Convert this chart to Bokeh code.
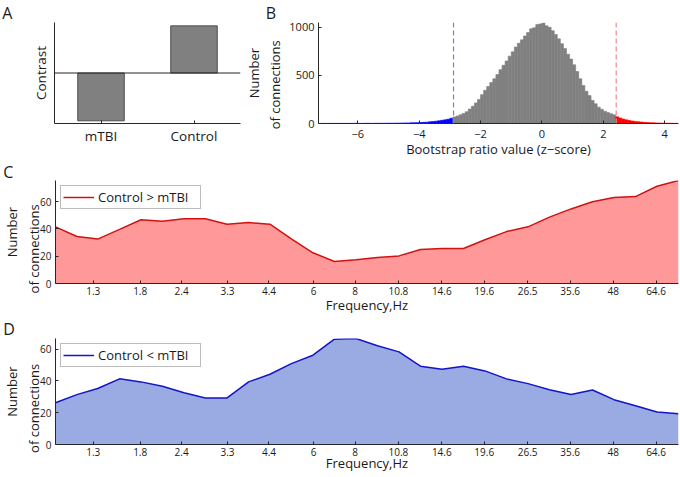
from bokeh.plotting import figure
from bokeh.layouts import column, row
from bokeh.models import Range1d, FixedTicker, Span, Legend, LegendItem, Title
from bokeh.embed import file_html
from bokeh.resources import INLINE

# ---------------- data ----------------
# Panel A: contrast
groups = ["mTBI", "Control"]
contrast = [-0.71, 0.70]

# Panel B: bootstrap ratio histogram (bins of 0.1 starting at -7.2)
hist_start = -7.2
hist_width = 0.1
hist_counts = [
    1, 1, 1, 1, 1, 1, 1, 1, 1, 1, 1, 2, 1, 1, 2, 2, 1, 2, 2, 2, 2, 3,
    3, 3, 4, 4, 5, 6, 6, 7, 8, 9,
    10, 12, 14, 17, 20, 24, 28, 33, 38, 45,
    55, 68, 78, 90, 104, 122, 150, 180, 214, 250,
    300, 345, 385, 425, 465, 510, 560, 605, 650, 700,
    745, 795, 835, 870, 910, 945, 985, 995, 1030, 1035,
    1045, 1015, 1000, 965, 925, 880, 830, 780, 720, 670,
    610, 540, 465, 395, 335, 290, 240, 205, 170, 148,
    128, 115, 102, 90, 70, 58, 47, 38, 31, 26,
    22, 18, 15, 12, 10, 8, 7, 6, 5, 4,
    3, 3, 2, 2,
]
ci_low = -2.88
ci_high = 2.42
b_xticks = [-6, -4, -2, 0, 2, 4]
b_xtick_labels = ["\u22126", "\u22124", "\u22122", "0", "2", "4"]
b_yticks = [0, 500, 1000]

# Panels C, D: number of connections per frequency
freqs = [1.00, 1.16, 1.34, 1.56, 1.81, 2.10, 2.44, 2.83, 3.29, 3.82,
         4.43, 5.14, 5.97, 6.93, 8.05, 9.34, 10.85, 12.59, 14.62, 16.97,
         19.70, 22.88, 26.56, 30.83, 35.80, 41.56, 48.24, 56.01, 65.02, 75.49]
ctrl_gt_mtbi = [41.5, 34.4, 32.5, 39.6, 46.7, 45.6, 47.4, 47.4, 43.4, 44.6,
                43.4, 32.7, 22.5, 16.1, 17.3, 19.0, 20.2, 24.9, 25.6, 25.6,
                32.0, 38.0, 41.5, 48.6, 54.6, 59.8, 62.9, 63.6, 71.2, 75.4]
ctrl_lt_mtbi = [26.3, 31.4, 35.2, 41.3, 39.4, 36.6, 32.6, 29.3, 29.3, 39.4,
                44.2, 50.9, 56.2, 66.3, 66.7, 62.1, 58.3, 49.3, 47.4, 49.3,
                46.3, 41.3, 38.3, 34.5, 31.4, 34.3, 28.2, 24.4, 20.4, 19.4]
freq_tick_labels = ["1.3", "1.8", "2.4", "3.3", "4.4", "6", "8", "10.8",
                    "14.6", "19.6", "26.5", "35.6", "48", "64.6"]
cd_yticks = [0, 20, 40, 60]

# ---------------- styling helpers ----------------
FONT = "Open Sans"
AX = "#262626"
TXT = "#1a1a1a"
NB = "\u00a0"


def make_fig(w, h, borders, xr, yr, x_axis_type="linear"):
    p = figure(width=w, height=h, x_range=xr, y_range=yr,
               x_axis_type=x_axis_type, toolbar_location=None,
               output_backend="svg",
               min_border_left=borders[0], min_border_right=borders[1],
               min_border_top=borders[2], min_border_bottom=borders[3])
    p.grid.visible = False
    p.outline_line_color = None
    p.background_fill_color = "white"
    p.border_fill_color = "white"
    for ax in p.axis:
        ax.axis_line_color = AX
        ax.axis_line_width = 1
        ax.major_tick_line_color = AX
        ax.major_tick_in = 3
        ax.major_tick_out = 0
        ax.minor_tick_line_color = None
        ax.major_label_text_font = FONT
        ax.major_label_text_color = TXT
        ax.major_label_standoff = 4
        ax.axis_label_text_font = FONT
        ax.axis_label_text_font_style = "normal"
        ax.axis_label_text_color = TXT
        ax.axis_label_text_font_size = "13px"
    return p


def add_letter(p, letter, offset, standoff):
    p.add_layout(Title(text=letter, align="left", vertical_align="top",
                       offset=offset, standoff=standoff, text_font=FONT,
                       text_font_size="16px", text_font_style="normal",
                       text_color=TXT), "above")


# ---------------- Panel A ----------------
pA = make_fig(241, 160, (54, 1, 20, 34), Range1d(0.5, 2.5), Range1d(-0.75, 0.75))
xa = [i + 1 for i in range(len(groups))]
pA.vbar(x=xa, top=contrast, bottom=0, width=0.5, fill_color="#808080",
        line_color="#4d4d4d", line_width=1)
pA.add_layout(Span(location=0, dimension="width", line_color=AX, line_width=1))
pA.xaxis.ticker = FixedTicker(ticks=xa)
pA.xaxis.major_label_overrides = {x: g for x, g in zip(xa, groups)}
pA.xaxis.major_label_text_font_size = "13.5px"
pA.xaxis.major_label_standoff = 3
pA.yaxis.ticker = FixedTicker(ticks=[])
pA.yaxis.axis_label = "Contrast"
pA.yaxis.axis_label_text_font_size = "13.5px"
pA.yaxis.axis_label_standoff = 5
add_letter(pA, "A", -52.3, -8.4)

# ---------------- Panel B ----------------
pB = make_fig(439, 160, (71, 2, 22, 34), Range1d(-7.28, 4.45), Range1d(0, 1050))
lefts, rights, tops, colors = [], [], [], []
for i, c in enumerate(hist_counts):
    l = hist_start + i * hist_width
    r = l + hist_width
    ctr = (l + r) / 2
    col = "#0000ff" if ctr < ci_low else ("#ff0000" if ctr > ci_high else "#808080")
    lefts.append(l); rights.append(r); tops.append(c); colors.append(col)
pB.quad(left=lefts, right=rights, top=tops, bottom=0, fill_color=colors,
        line_color=colors, line_width=0.6)
pB.add_layout(Span(location=ci_low, dimension="height", line_color="#7878f4",
                   line_width=1.2, line_dash="5 3"))
pB.add_layout(Span(location=ci_high, dimension="height", line_color="#f08890",
                   line_width=1.2, line_dash="5 3"))
pB.xaxis.ticker = FixedTicker(ticks=b_xticks)
pB.xaxis.major_label_overrides = {t: s for t, s in zip(b_xticks, b_xtick_labels)}
pB.yaxis.ticker = FixedTicker(ticks=b_yticks)
pB.xaxis.major_label_text_font_size = "11px"
pB.yaxis.major_label_text_font_size = "11px"
pB.xaxis.major_label_standoff = 6
pB.xaxis.axis_label = "Bootstrap ratio value (z\u2212score)"
pB.xaxis.axis_label_standoff = -1
pB.yaxis.axis_label = "Number\nof connections" + NB * 7
pB.yaxis.axis_label_standoff = 2
add_letter(pB, "B", -52.7, -6)


# ---------------- Panels C, D ----------------
def freq_panel(height, borders, values, fill, line, label, letter,
               tick_standoff, xlab_standoff, letter_standoff):
    p = make_fig(680, height, borders, Range1d(freqs[0], freqs[-1]),
                 Range1d(0, max(values)), x_axis_type="log")
    p.varea(x=freqs, y1=0, y2=values, fill_color=fill)
    r = p.line(x=freqs, y=values, line_color=line, line_width=1.5)
    ticks = [float(s) for s in freq_tick_labels]
    p.xaxis.ticker = FixedTicker(ticks=ticks)
    p.xaxis.major_label_overrides = {t: s for t, s in zip(ticks, freq_tick_labels)}
    p.yaxis.ticker = FixedTicker(ticks=cd_yticks)
    p.xaxis.major_label_text_font_size = "10px"
    p.yaxis.major_label_text_font_size = "10px"
    p.xaxis.major_label_standoff = tick_standoff
    p.xaxis.axis_label = "Frequency,Hz"
    p.xaxis.axis_label_standoff = xlab_standoff
    p.yaxis.axis_label = "Number\nof connections" + NB * 10
    p.yaxis.axis_label_standoff = -6
    leg = Legend(items=[LegendItem(label=label, renderers=[r])],
                 location="top_left", margin=5, border_line_color="#7a7a7a",
                 border_line_width=1, background_fill_color="white",
                 background_fill_alpha=1.0, label_text_font=FONT,
                 label_text_font_size="13px", label_text_color=TXT,
                 padding=2, glyph_width=31, glyph_height=14, label_height=14,
                 label_width=100, label_standoff=4)
    p.add_layout(leg)
    add_letter(p, letter, -52.3, letter_standoff)
    return p


pC = freq_panel(156, (54, 2, 20, 31), ctrl_gt_mtbi, "#ff9999", "#d41111",
                "Control > mTBI", "C", 3, -2, -9.5)
pD = freq_panel(161, (54, 2, 22, 33), ctrl_lt_mtbi, "#99abe2", "#1414c8",
                "Control < mTBI", "D", 3, -5, -6.7)

layout = column(row(pA, pB), pC, pD)
open("out.html", "w").write(file_html(layout, INLINE))
